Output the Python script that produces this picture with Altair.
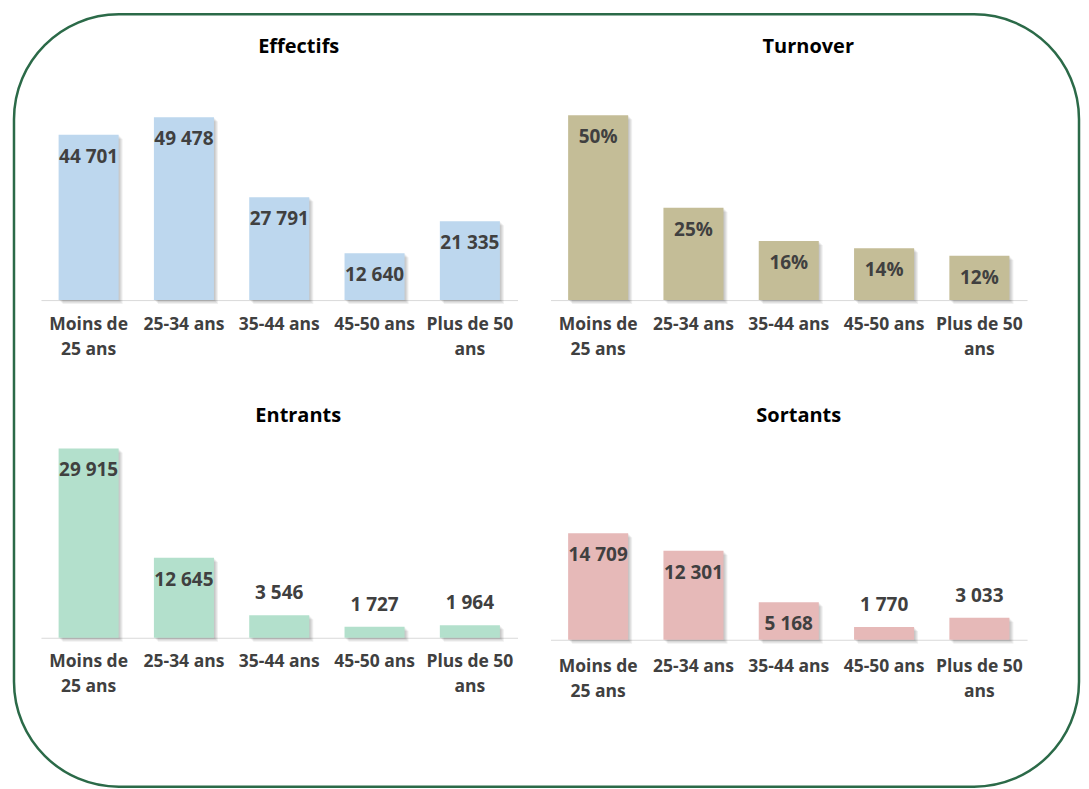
import altair as alt
import pandas as pd

categories = ["Moins de 25 ans", "25-34 ans", "35-44 ans", "45-50 ans", "Plus de 50 ans"]
effectifs = [44701, 49478, 27791, 12640, 21335]
turnover = [0.50, 0.25, 0.16, 0.14, 0.12]
entrants = [29915, 12645, 3546, 1727, 1964]
sortants = [14709, 12301, 5168, 1770, 3033]

FONT = "Open Sans"
W = 477
LABEL_EXPR = ("datum.label == 'Moins de 25 ans' ? ['Moins de', '25 ans'] : "
              "datum.label == 'Plus de 50 ans' ? ['Plus de 50', 'ans'] : datum.label")


def fr_int(v):
    return f"{v:,}".replace(",", " ")


def pct(v):
    return f"{round(v * 100)}%"


def panel(values, labels, title, color, ymax, h, title_offset, title_dx, label_pad=15, extra=None):
    df = pd.DataFrame({"cat": categories, "val": values, "label": labels})
    df["inside"] = [v / ymax * h > 30 for v in values]
    x = alt.X(
        "cat:N", sort=categories, title=None,
        scale=alt.Scale(paddingInner=0.37, paddingOuter=0.185),
        axis=alt.Axis(labelExpr=LABEL_EXPR, labelAngle=0, ticks=False, tickSize=0,
                      domainColor="#d9d9d9", domainWidth=1, labelPadding=label_pad,
                      labelLineHeight=25, labelBaseline="top", labelFont=FONT,
                      labelFontSize=17.5, labelFontWeight="bold", labelColor="#404040",
                      grid=False, labelLimit=0),
    )
    y = alt.Y("val:Q", scale=alt.Scale(domain=[0, ymax], nice=False, zero=True), axis=None)
    base = alt.Chart(df).encode(x=x, y=y)
    layers = []
    if extra is not None:
        layers.append(extra)
    for k in (4, 3, 2, 1):
        layers.append(base.mark_bar(color="#000000", opacity=0.06, xOffset=k, yOffset=k))
    layers.append(base.mark_bar(color=color))
    txt = dict(font=FONT, fontSize=19, fontWeight="bold", color="#404040",
               baseline="middle", align="center")
    layers.append(base.transform_filter("datum.inside").mark_text(dy=22, **txt).encode(text="label:N"))
    layers.append(base.transform_filter("!datum.inside").mark_text(dy=-22, **txt).encode(text="label:N"))
    return alt.layer(*layers).properties(
        width=W, height=h,
        title=alt.TitleParams(title, frame="group", anchor="middle", offset=title_offset,
                              dx=title_dx, font=FONT, fontSize=20, fontWeight="bold",
                              color="#000000", baseline="alphabetic"),
    )


border = alt.Chart(pd.DataFrame({"k": [0]})).mark_rect(
    fillOpacity=0, stroke="#2b6a48", strokeWidth=2.5, cornerRadius=105
).encode(x=alt.value(-27), x2=alt.value(1039), y=alt.value(-64), y2=alt.value(709))

p1 = panel(effectifs, [fr_int(v) for v in effectifs], "Effectifs", "#BDD7EE", 60000, 222, -59.75, 19.5, extra=border)
p2 = panel(turnover, [pct(v) for v in turnover], "Turnover", "#C4BD97", 0.60, 222, 5.5, 19.5)
p3 = panel(entrants, [fr_int(v) for v in entrants], "Entrants", "#B3E0CC", 30000, 190, 5.5, 19)
p4 = panel(sortants, [fr_int(v) for v in sortants], "Sortants", "#E6B9B8", 26500, 192, 5.5, 10, label_pad=18)

chart = alt.concat(
    p1, p2, p3, p4, columns=2, spacing={"row": 148, "column": 33}, bounds="flush"
).properties(
    padding={"left": 4, "top": 4, "right": 0, "bottom": 0}
).configure_view(strokeWidth=0)

chart.save("out.html", embed_options={"renderer": "svg", "actions": False})
